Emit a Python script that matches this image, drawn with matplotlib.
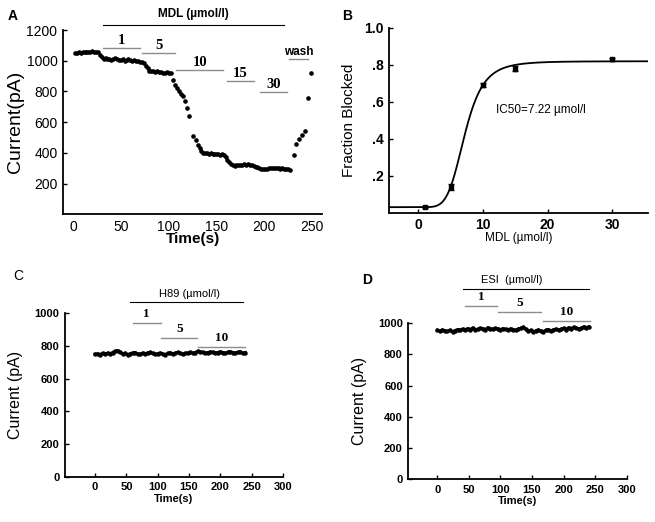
import numpy as np
import matplotlib
matplotlib.use("Agg")
import matplotlib.pyplot as plt

plt.rcParams['font.family'] = ['Liberation Sans', 'DejaVu Sans']

# ---- panel A: MDL time course ----
a_time = [2, 4, 6, 8, 10, 12, 14, 16, 18, 20, 22, 24, 26,
          28, 30, 32, 34, 36, 38, 40, 42, 44, 46, 48, 50, 52, 54, 56, 58,
          60, 62, 64, 66, 68, 70, 72, 74, 76, 78, 80, 82, 84, 86, 88, 90,
          92, 94, 96, 98, 100, 102,
          105, 107, 109, 111, 113, 115, 117, 119, 121.5, 125.5, 128.5, 131,
          132.5, 134, 136, 138, 140, 142, 144, 146, 148, 150, 152, 154, 156,
          158, 160, 161.5, 163, 165, 167, 169, 171, 173, 175, 177, 179, 181,
          183, 185, 187, 189, 191, 193, 195, 197, 199, 201, 203, 205, 207,
          209, 211, 213, 215, 217, 219, 221, 223, 225, 227,
          231, 233.4, 236, 239.7, 242.5, 246, 249.5]
a_current = [1052, 1050, 1054, 1052, 1056, 1055, 1058, 1060, 1057, 1062, 1060, 1058, 1055,
             1040, 1022, 1012, 1015, 1008, 1010, 1005, 1012, 1015, 1008, 1002, 1005, 1010,
             1000, 1003, 1008, 1005, 1000, 1002, 998, 995, 993, 990, 982, 968, 950, 935,
             930, 932, 928, 930, 925, 927, 922, 920, 924, 918, 920,
             872, 845, 825, 805, 785, 770, 735, 694, 642, 512, 486, 450,
             432, 415, 402, 400, 398, 395, 398, 392, 395, 390, 392, 388, 390,
             385, 370, 355, 340, 328, 322, 315, 318, 324, 320, 322, 325, 322,
             326, 320, 318, 315, 310, 305, 300, 296, 294, 296, 298, 300, 302,
             299, 303, 300, 302, 298, 300, 296, 298, 294, 290,
             389, 460, 490, 519, 540, 757, 919]

# treatment bars: (label, start, end, level)
a_bars = [("1", 31, 70, 1083), ("5", 72, 107, 1051), ("10", 108, 157, 940),
          ("15", 161, 189, 869), ("30", 196, 224, 798), ("wash", 226, 246, 1012)]

# ---- panel B: dose response ----
b_conc = [1, 5, 10, 15, 30]
b_frac = [0.03, 0.14, 0.69, 0.78, 0.83]
b_err = [0.005, 0.015, 0.01, 0.015, 0.01]
ic50 = 7.22
hill_n = 5.0
fit_bottom = 0.03
fit_top = 0.82

# ---- panel C: H89 ----
c_current = [750, 752, 747, 755, 750, 757, 752, 760, 768, 772,
             762, 752, 756, 746, 753, 758, 760, 752, 749, 757,
             753, 758, 761, 754, 748, 753, 757, 751, 747, 755,
             759, 752, 756, 761, 754, 750, 755, 758, 762, 756,
             760, 768, 765, 761, 757, 760, 764, 762, 757, 760,
             765, 760, 756, 762, 766, 760, 757, 762, 765, 755,
             760]
c_bars = [("1", 60, 105, 939), ("5", 106, 163, 847), ("10", 164, 240, 792)]

# ---- panel D: ESI ----
d_current = [955, 950, 958, 952, 948, 956, 945, 953, 960, 957,
             963, 958, 966, 960, 970, 956, 962, 968, 965, 960,
             972, 966, 962, 968, 964, 960, 966, 962, 958, 965,
             960, 956, 963, 968, 975, 962, 948, 955, 944, 952,
             958, 950, 947, 955, 960, 952, 958, 963, 956, 962,
             968, 960, 972, 966, 975, 970, 964, 968, 978, 972,
             978]
d_bars = [("1", 44, 95, 1113), ("5", 96, 165, 1071), ("10", 167, 242, 1015)]

trace_time = list(range(0, 244, 4))

fig = plt.figure(figsize=(6.55, 5.22), dpi=100)
gray = "#8c8c8c"


def style(ax, bold, size):
    for s in ("top", "right"):
        ax.spines[s].set_visible(False)
    for s in ("left", "bottom"):
        ax.spines[s].set_linewidth(1.3)
    ax.tick_params(direction="in", length=3, width=1, labelsize=size, pad=4)
    for lab in ax.get_xticklabels() + ax.get_yticklabels():
        lab.set_fontweight("bold" if bold else "normal")


def bars(ax, specs, dy, fs):
    for lab, x0, x1, y in specs:
        ax.plot([x0, x1], [y, y], color=gray, lw=1, clip_on=False)
        ax.text((x0 + x1) / 2, y + dy, lab, ha="center", va="bottom",
                fontsize=fs, fontweight="bold", family="Liberation Serif")


# A
axA = fig.add_axes([0.0962, 0.5895, 0.3954, 0.353])
axA.plot(a_time, a_current, "o", color="black", ms=2.3)
axA.set_xlim(-10.5, 260.5)
axA.set_ylim(0, 1200)
axA.set_xticks([0, 50, 100, 150, 200, 250])
axA.set_yticks([200, 400, 600, 800, 1000, 1200])
style(axA, False, 10)
axA.tick_params(axis="x", length=0)
axA.set_ylabel("Current(pA)", fontsize=14, labelpad=2)
axA.set_xlabel("Time(s)", fontsize=11, fontweight="bold", labelpad=-1)
axA.plot([31, 221], [1232, 1232], color="black", lw=0.8, clip_on=False)
axA.text(126, 1262, "MDL (µmol/l)", ha="center", va="bottom", fontsize=8.5,
         fontweight="bold")
for lab, x0, x1, y in a_bars:
    axA.plot([x0, x1], [y, y], color=gray, lw=1, clip_on=False)
    axA.text((x0 + x1) / 2, y + 8, lab, ha="center", va="bottom",
             fontsize=10.5 if lab != "wash" else 8.5, fontweight="bold",
             family="Liberation Serif" if lab != "wash" else "Liberation Sans")
fig.text(0.012, 0.97, "A", fontsize=10, fontweight="bold", va="center")

# B
axB = fig.add_axes([0.5939, 0.5925, 0.3954, 0.3539])
xs = np.linspace(-4.5, 35.5, 400)
xc = np.clip(xs, 1e-6, None)
fit = fit_bottom + (fit_top - fit_bottom) / (1 + (ic50 / xc) ** hill_n)
axB.plot(xs, fit, color="black", lw=1.3)
axB.errorbar(b_conc, b_frac, yerr=b_err, fmt="s", color="black", ms=2.5,
             capsize=2, elinewidth=1, capthick=1)
axB.set_xlim(-4.5, 35.5)
axB.set_ylim(0, 1.0)
axB.set_xticks([0, 10, 20, 30])
axB.set_yticks([0.2, 0.4, 0.6, 0.8, 1.0])
axB.set_yticklabels([".2", ".4", ".6", ".8", "1.0"])
style(axB, True, 10)
axB.set_ylabel("Fraction Blocked", fontsize=11, labelpad=6)
axB.set_xlabel("MDL (µmol/l)", fontsize=8.5, labelpad=0)
axB.text(12, 0.556, "IC50=7.22 µmol/l", fontsize=8.5, va="center")
fig.text(0.523, 0.97, "B", fontsize=10, fontweight="bold", va="center")

# C
axC = fig.add_axes([0.0992, 0.0868, 0.3328, 0.313])
axC.plot(trace_time, c_current, "-o", color="black", lw=2.2, ms=2.2)
axC.set_xlim(-48, 300)
axC.set_ylim(0, 1000)
axC.set_xticks([0, 50, 100, 150, 200, 250, 300])
axC.set_yticks([0, 200, 400, 600, 800, 1000])
style(axC, True, 8)
axC.set_ylabel("Current (pA)", fontsize=11.5, labelpad=8)
axC.set_xlabel("Time(s)", fontsize=8, fontweight="bold", labelpad=1)
axC.plot([56, 237], [1067, 1067], color="black", lw=0.8, clip_on=False)
axC.text(150, 1090, "H89 (µmol/l)", ha="center", va="bottom", fontsize=8)
bars(axC, c_bars, 18, 9.5)
fig.text(0.02, 0.471, "C", fontsize=10, va="center")

# D
axD = fig.add_axes([0.6234, 0.0824, 0.3334, 0.2983])
axD.plot(trace_time, d_current, "-o", color="black", lw=2.2, ms=2.2)
axD.set_xlim(-46, 300)
axD.set_ylim(0, 1000)
axD.set_xticks([0, 50, 100, 150, 200, 250, 300])
axD.set_yticks([0, 200, 400, 600, 800, 1000])
style(axD, True, 8)
axD.set_ylabel("Current (pA)", fontsize=11.5, labelpad=8)
axD.set_xlabel("Time(s)", fontsize=8, fontweight="bold", labelpad=1)
axD.plot([40, 240], [1218, 1218], color="black", lw=0.8, clip_on=False)
axD.text(118, 1245, "ESI  (µmol/l)", ha="center", va="bottom", fontsize=8)
bars(axD, d_bars, 18, 9.5)
fig.text(0.553, 0.464, "D", fontsize=10, fontweight="bold", va="center")

fig.savefig("out.png", dpi=100)
